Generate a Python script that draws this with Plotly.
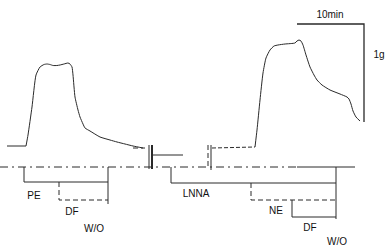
import plotly.graph_objects as go

# ---- Data (figure units: x = time axis, y = position, top-down) ----
trace1_base_x = [7, 26]
trace1_base_y = [146, 146]
trace1_x = [26, 28, 32, 36, 40, 44, 47, 50, 53, 57, 60, 64, 68, 70, 72, 73, 75, 78, 80, 83, 85, 90, 100, 110, 117, 125, 133, 143]
trace1_y = [146, 135, 107, 75, 67, 64.5, 64, 64.5, 65.5, 65.5, 65, 64, 63, 64, 67, 75, 97, 110, 117, 124, 128, 131, 137, 140, 142, 144, 146, 148]

trace2_base_x = [212, 255]
trace2_base_y = [148, 147]
trace2_x = [255, 257, 260, 263, 266, 270, 274, 278, 285, 295, 297, 299, 301, 303, 306, 310, 314, 317, 322, 330, 340, 347, 349, 351, 353, 356, 360]
trace2_y = [147, 130, 100, 73, 58, 50, 46, 45, 44, 43, 41, 40, 41, 45, 55, 67, 75, 80, 85, 90, 94, 97, 99, 104, 111, 117, 121]

# protocol bars (solid)
pe1_x = [24, 24, 108]; pe1_y = [167, 182, 182]
wo1_x = [108, 108]; wo1_y = [167, 204]
lnna_x = [171, 171, 336]; lnna_y = [167, 183, 183]
df2_x = [292, 292, 336]; df2_y = [200, 217, 217]
wo2_x = [336, 336]; wo2_y = [167, 219]
drop1_x = [149, 149]; drop1_y = [145, 169]
break1_x = [152, 152]; break1_y = [145, 169]
cont_x = [152, 183]; cont_y = [155, 155]
break2_x = [211, 211]; break2_y = [145, 170]
base_solid_x = [297, 355]; base_solid_y = [167, 167]

# protocol bars (dashed)
df1_x = [59, 59, 108]; df1_y = [182, 200, 200]
ne_x = [251, 251, 336]; ne_y = [183, 200, 200]
break2b_x = [208, 208]; break2b_y = [145, 168]
end1_x = [133, 145]; end1_y = [148, 148]
base_dash_x = [0, 297]; base_dash_y = [167, 167]

# scale bar
scale_x = [297, 364, 364]; scale_y = [24, 24, 122]

labels = ["PE", "DF", "W/O", "LNNA", "NE", "DF", "W/O", "10min", "1g"]
label_x = [34, 72, 94, 196, 276, 310, 337, 330, 379]
label_y = [196, 212, 229, 194, 211, 228, 242, 15, 55]

INK = "#2a2a2a"
fig = go.Figure()

def seg(x, y, width=1.0, dash="solid", color=INK, shape="linear"):
    fig.add_trace(go.Scatter(x=x, y=y, mode="lines",
                             line=dict(color=color, width=width, dash=dash, shape=shape, smoothing=0.5),
                             hoverinfo="skip", showlegend=False))

seg(trace1_base_x, trace1_base_y, 1.0)
seg(trace1_x, trace1_y, 1.0, shape="spline")
seg(trace2_base_x, trace2_base_y, 1.0, "4px,2px")
seg(trace2_x, trace2_y, 1.0, shape="spline")

for x, y in [(pe1_x, pe1_y), (wo1_x, wo1_y), (lnna_x, lnna_y), (df2_x, df2_y), (wo2_x, wo2_y),
             (drop1_x, drop1_y), (cont_x, cont_y), (break2_x, break2_y), (base_solid_x, base_solid_y)]:
    seg(x, y, 1.0)
seg(break1_x, break1_y, 2.0)
for x, y in [(df1_x, df1_y), (ne_x, ne_y), (break2b_x, break2b_y), (end1_x, end1_y)]:
    seg(x, y, 1.0, "5px,3px")
seg(base_dash_x, base_dash_y, 1.0, "8px,4px,2px,4px")
seg(scale_x, scale_y, 1.3)

fig.add_trace(go.Scatter(x=label_x, y=label_y, mode="text", text=labels,
                         textfont=dict(family="Liberation Sans, Arial, sans-serif", size=10, color="#111"),
                         hoverinfo="skip", showlegend=False, cliponaxis=False))

fig.update_layout(
    width=385, height=250, autosize=False,
    margin=dict(l=0, r=0, t=0, b=0),
    paper_bgcolor="white", plot_bgcolor="white",
    xaxis=dict(range=[0, 385], visible=False, fixedrange=True),
    yaxis=dict(range=[250, 0], visible=False, fixedrange=True),
)
fig.write_html("out.html", config={"displayModeBar": False},
               post_script="document.body.style.margin='0';document.body.style.padding='0';")
